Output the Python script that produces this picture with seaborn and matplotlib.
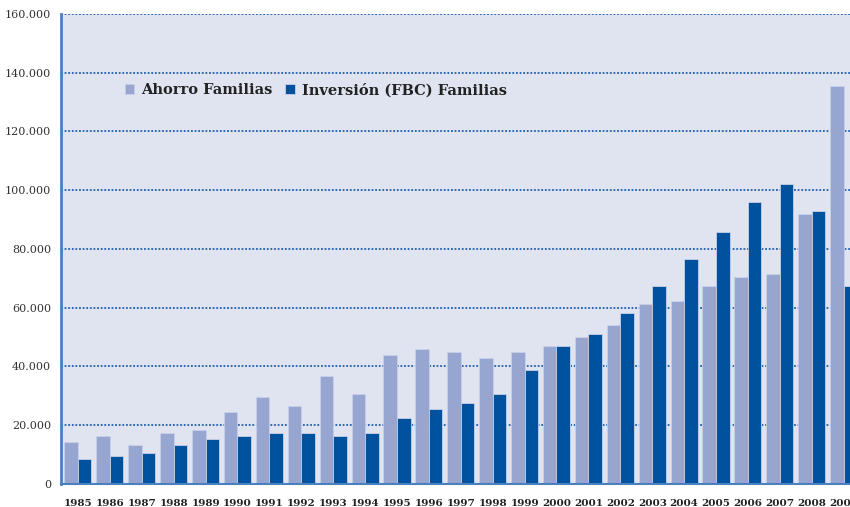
import matplotlib
matplotlib.use("Agg")
import matplotlib.pyplot as plt
import matplotlib.ticker as mticker
import pandas as pd
import seaborn as sns

# --- datos ---
anios = [str(a) for a in range(1985, 2010)]
ahorro = [14.4, 16.4, 13.4, 17.5, 18.5, 24.6, 29.7, 26.6, 36.8, 30.6,
          43.9, 46.0, 44.9, 42.9, 44.9, 47.0, 50.0, 54.1, 61.3, 62.2,
          67.4, 70.5, 71.4, 91.8, 135.6]
inversion = [8.4, 9.4, 10.4, 13.4, 15.4, 16.4, 17.5, 17.4, 16.3, 17.4,
             22.5, 25.5, 27.6, 30.6, 38.8, 47.0, 51.0, 58.2, 67.4, 76.6,
             85.7, 95.9, 102.0, 92.8, 67.4]
series = ["Ahorro Familias", "Inversión (FBC) Familias"]

df = pd.DataFrame({
    "anio": anios * 2,
    "valor": [v * 1000 for v in ahorro] + [v * 1000 for v in inversion],
    "serie": [series[0]] * len(anios) + [series[1]] * len(anios),
})

sns.set_theme(style="white")
plt.rcParams["font.family"] = ["DejaVu Serif"]

paleta = {series[0]: "#97A5D1", series[1]: "#00529F"}
azul_grid = "#1F5FAE"

fig = plt.figure(figsize=(8.5, 5.07), dpi=100)
ax = fig.add_axes([0.0718, 0.0454, 0.9282, 0.927])
ax.set_facecolor("#E0E4F0")

sns.barplot(data=df, x="anio", y="valor", hue="serie", palette=paleta,
            width=0.85, saturation=1, edgecolor="#C8D0E8", linewidth=0.6,
            ax=ax)

ax.set_xlim(-0.53, 24.2)
ax.set_ylim(0, 160000)
ax.yaxis.set_major_locator(mticker.MultipleLocator(20000))
ax.yaxis.set_major_formatter(mticker.FuncFormatter(
    lambda v, p: "0" if v == 0 else f"{v/1000:.0f}.000"))

ax.set_axisbelow(True)
ax.yaxis.grid(True, linestyle=(0, (1, 1)), color=azul_grid, linewidth=1.3)
ax.xaxis.grid(False)

for lado in ["top", "right"]:
    ax.spines[lado].set_visible(False)
ax.spines["left"].set_color("#4A80C0")
ax.spines["left"].set_linewidth(2)
ax.spines["bottom"].set_color("#4A80C0")
ax.spines["bottom"].set_linewidth(1.5)

ax.tick_params(axis="y", length=0, pad=7, labelsize=8, labelcolor="#333333")
ax.tick_params(axis="x", length=0, pad=11, labelsize=7.5)
for t in ax.get_xticklabels():
    t.set_fontweight("bold")
    t.set_color("#222222")
    t.set_clip_on(False)

ax.set_xlabel("")
ax.set_ylabel("")

leg = ax.legend(loc="center left", bbox_to_anchor=(0.081, 0.838), ncol=2,
                frameon=False, borderpad=0, borderaxespad=0,
                handlelength=0.65, handleheight=0.65,
                handletextpad=0.45, columnspacing=0.9,
                prop={"weight": "bold", "size": 10.5})
for t in leg.get_texts():
    t.set_color("#222222")

plt.savefig("out.png", dpi=100)
plt.close()
